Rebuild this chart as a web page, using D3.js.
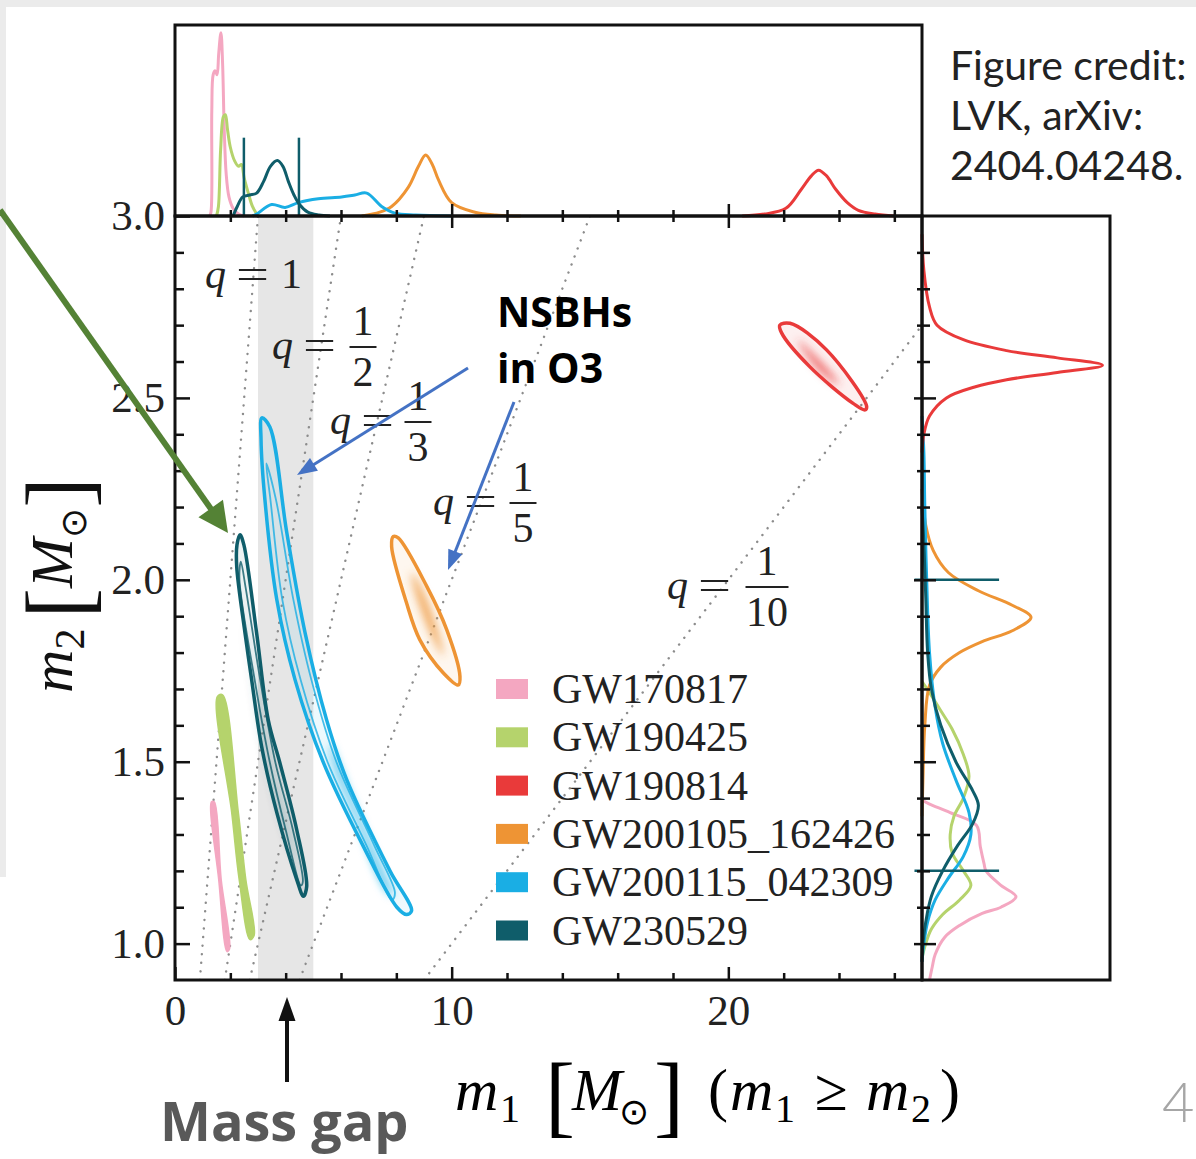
<!DOCTYPE html>
<html>
<head>
<meta charset="utf-8">
<script src="https://cdn.jsdelivr.net/npm/d3@7"></script>
<style>
  body { margin: 0; background: #fff; }
  svg { display: block; }
</style>
</head>
<body>
<svg id="chart"></svg>
<script>
var w = 1196, h = 1159;
var serif = "'Liberation Serif', 'DejaVu Serif', serif";
var sans = "'Open Sans', 'Noto Sans', sans-serif";

// events, legend order
var events = ["GW170817", "GW190425", "GW190814", "GW200105_162426", "GW200115_042309", "GW230529"];
var eventColors = ["#f4a7c1", "#b5d36c", "#e93a3a", "#ee9434", "#1aaee4", "#0f5d6a"];

// 90% credible regions, [m1, m2]
var contourGW170817 = [[1.32, 1.39], [1.42, 1.39], [1.67, 1.176], [1.97, 0.985], [1.88, 0.978], [1.58, 1.176]];
var contourGW190425 = [[1.53, 1.679], [1.72, 1.684], [2.29, 1.36], [2.56, 1.176], [2.86, 1.022], [2.71, 1.011], [2.32, 1.176], [2.05, 1.36]];
var contourGW190814 = [[21.86, 2.70], [22.23, 2.705], [23.55, 2.632], [25.0, 2.476], [24.94, 2.467], [24.51, 2.485], [22.94, 2.586], [21.93, 2.678]];
var contourGW200105 = [[7.89, 2.119], [8.07, 2.115], [9.10, 1.982], [9.82, 1.863], [10.30, 1.734], [10.24, 1.711], [9.70, 1.744], [8.85, 1.835], [8.37, 1.936], [7.83, 2.091]];
var contourGW200115 = [[3.14, 2.445], [3.43, 2.42], [4.04, 2.13], [4.70, 1.855], [5.48, 1.615], [6.21, 1.45], [7.77, 1.20], [8.55, 1.09], [8.37, 1.08], [8.02, 1.10], [6.79, 1.27], [5.35, 1.50], [4.34, 1.725], [3.68, 1.945], [3.25, 2.22], [3.11, 2.385]];
var contourGW230529 = [[2.35, 2.124], [2.49, 2.096], [2.95, 1.854], [3.37, 1.615], [3.79, 1.497], [4.40, 1.313], [4.76, 1.157], [4.64, 1.13], [4.40, 1.176], [3.68, 1.36], [3.13, 1.542], [2.77, 1.725], [2.53, 1.854], [2.23, 2.037], [2.24, 2.096]];

// 50% regions (drawn for the two long ones)
var innerGW200115 = [[3.30, 2.32], [3.65, 2.22], [4.28, 1.945], [4.93, 1.725], [5.83, 1.50], [7.20, 1.27], [7.95, 1.14], [7.85, 1.12], [6.92, 1.27], [5.51, 1.50], [4.54, 1.725], [3.88, 1.945], [3.45, 2.22]];
var innerGW230529 = [[2.38, 2.05], [2.55, 1.98], [3.08, 1.725], [3.63, 1.497], [4.26, 1.313], [4.62, 1.17], [4.55, 1.16], [4.00, 1.313], [3.43, 1.497], [2.88, 1.725], [2.33, 2.00]];

// densest part of each posterior
var coreGW190814 = [[22.5, 2.66], [23.2, 2.61], [23.9, 2.55], [24.0, 2.535], [23.3, 2.575], [22.6, 2.645]];
var coreGW200105 = [[8.55, 2.02], [9.0, 1.96], [9.6, 1.83], [9.7, 1.79], [9.2, 1.86], [8.6, 1.99]];
var coreGW200115 = [[5.6, 1.55], [6.5, 1.38], [7.5, 1.20], [7.9, 1.13], [7.6, 1.15], [6.6, 1.33], [5.7, 1.50]];
var coreGW230529 = [[2.6, 1.85], [3.4, 1.50], [4.1, 1.30], [4.4, 1.22], [3.9, 1.33], [3.2, 1.55], [2.5, 1.90]];

var contours90 = [contourGW170817, contourGW190425, contourGW190814, contourGW200105, contourGW200115, contourGW230529];
var contours50 = [null, null, null, null, innerGW200115, innerGW230529];
var cores = [null, null, coreGW190814, coreGW200105, coreGW200115, coreGW230529];

// marginal m1 densities [m1, density]
var m1DensGW170817 = [[1.25, 0], [1.30, 0.02], [1.33, 0.55], [1.38, 0.74], [1.45, 0.76], [1.52, 0.74], [1.58, 0.85], [1.66, 0.96], [1.72, 0.80], [1.78, 0.45], [1.85, 0.22], [1.95, 0.10], [2.1, 0.04], [2.3, 0.01], [2.5, 0]];
var m1DensGW190425 = [[1.5, 0], [1.57, 0.05], [1.65, 0.35], [1.75, 0.52], [1.82, 0.53], [1.9, 0.45], [2.0, 0.36], [2.15, 0.29], [2.3, 0.26], [2.4, 0.27], [2.5, 0.2], [2.65, 0.12], [2.8, 0.05], [3.0, 0]];
var m1DensGW190814 = [[20.5, 0], [21.3, 0.01], [22.08, 0.04], [22.64, 0.14], [23.0, 0.21], [23.26, 0.24], [23.55, 0.21], [23.88, 0.14], [24.3, 0.07], [24.7, 0.03], [25.3, 0.01], [26, 0]];
var m1DensGW200105 = [[6.75, 0], [7.4, 0.02], [7.83, 0.05], [8.43, 0.15], [8.8, 0.26], [9.06, 0.32], [9.3, 0.27], [9.52, 0.19], [10.0, 0.07], [10.84, 0.02], [11.6, 0.005], [12.5, 0]];
var m1DensGW200115 = [[2.8, 0], [2.95, 0.01], [3.49, 0.06], [3.98, 0.045], [4.46, 0.07], [5.18, 0.09], [6.02, 0.10], [6.5, 0.11], [6.93, 0.12], [7.47, 0.05], [7.95, 0.015], [8.7, 0.005], [10, 0]];
var m1DensGW230529 = [[2.1, 0], [2.25, 0.05], [2.45, 0.10], [2.7, 0.11], [2.95, 0.12], [3.2, 0.18], [3.45, 0.26], [3.7, 0.29], [3.9, 0.26], [4.1, 0.18], [4.3, 0.11], [4.5, 0.06], [4.8, 0.02], [5.2, 0.005], [5.6, 0]];

// marginal m2 densities [m2, density]
var m2DensGW170817 = [[1.395, 0], [1.385, 0.035], [1.36, 0.15], [1.325, 0.29], [1.267, 0.31], [1.22, 0.33], [1.20, 0.34], [1.16, 0.42], [1.129, 0.50], [1.10, 0.42], [1.083, 0.32], [1.05, 0.2], [1.017, 0.12], [0.97, 0.07], [0.937, 0.055], [0.90, 0.04]];
var m2DensGW190425 = [[1.72, 0], [1.69, 0.04], [1.64, 0.10], [1.59, 0.16], [1.52, 0.22], [1.46, 0.25], [1.40, 0.22], [1.35, 0.17], [1.30, 0.15], [1.25, 0.16], [1.20, 0.22], [1.16, 0.26], [1.12, 0.20], [1.08, 0.11], [1.04, 0.05], [1.0, 0.02], [0.96, 0]];
var m2DensGW190814 = [[2.95, 0], [2.85, 0.01], [2.75, 0.04], [2.70, 0.08], [2.66, 0.22], [2.63, 0.45], [2.61, 0.72], [2.59, 0.96], [2.57, 0.72], [2.55, 0.45], [2.53, 0.28], [2.50, 0.13], [2.45, 0.04], [2.40, 0.01], [2.35, 0]];
var m2DensGW200105 = [[2.25, 0], [2.15, 0.02], [2.08, 0.06], [2.02, 0.14], [1.97, 0.30], [1.93, 0.48], [1.897, 0.58], [1.86, 0.48], [1.83, 0.32], [1.80, 0.20], [1.76, 0.10], [1.71, 0.04], [1.6, 0.015], [1.45, 0.005], [1.35, 0]];
var m2DensGW200115 = [[2.45, 0], [2.35, 0.01], [2.2, 0.015], [2.0, 0.025], [1.8, 0.04], [1.65, 0.07], [1.55, 0.11], [1.45, 0.18], [1.36, 0.25], [1.30, 0.26], [1.24, 0.22], [1.18, 0.14], [1.12, 0.07], [1.06, 0.03], [1.0, 0.01], [0.95, 0]];
var m2DensGW230529 = [[2.2, 0], [2.1, 0.01], [1.95, 0.02], [1.8, 0.03], [1.7, 0.05], [1.6, 0.10], [1.5, 0.18], [1.42, 0.27], [1.38, 0.30], [1.33, 0.27], [1.27, 0.19], [1.2, 0.11], [1.13, 0.05], [1.06, 0.02], [1.0, 0.005], [0.95, 0]];

var m1Densities = [m1DensGW170817, m1DensGW190425, m1DensGW190814, m1DensGW200105, m1DensGW200115, m1DensGW230529];
var m2Densities = [m2DensGW170817, m2DensGW190425, m2DensGW190814, m2DensGW200105, m2DensGW200115, m2DensGW230529];

// GW230529 90% intervals
var ciM1GW230529 = [2.49, 4.48];
var ciM2GW230529 = [1.2, 2.0];

var qValues = [1, 1 / 2, 1 / 3, 1 / 5, 1 / 10];
var massGap = [3, 5];

var xMajorTicks = [0, 10, 20];
var xMinorTicks = [2, 4, 6, 8, 12, 14, 16, 18, 22, 24, 26];
var yMajorTicks = [1.0, 1.5, 2.0, 2.5, 3.0];
var yMinorTicks = [1.1, 1.2, 1.3, 1.4, 1.6, 1.7, 1.8, 1.9, 2.1, 2.2, 2.3, 2.4, 2.6, 2.7, 2.8, 2.9];

var svg = d3.select("#chart").attr("width", w).attr("height", h);

// slide frame
svg.append("rect").attr("width", w).attr("height", 7).attr("fill", "#ebebeb");
svg.append("rect").attr("width", 6).attr("height", 877).attr("fill", "#ebebeb");

var x = d3.scaleLinear().domain([0, 27]).range([175, 922]);
var y = d3.scaleLinear().domain([0.9, 3.0]).range([980, 216]);
var dTop = d3.scaleLinear().domain([0, 1]).range([216, 25]);
var dRight = d3.scaleLinear().domain([0, 1]).range([922, 1110]);

var defs = svg.append("defs");
defs.append("clipPath").attr("id", "mainClip").append("rect")
    .attr("x", 175).attr("y", 216).attr("width", 747).attr("height", 764);
defs.append("filter").attr("id", "blur")
    .attr("x", "-50%").attr("y", "-50%").attr("width", "200%").attr("height", "200%")
    .append("feGaussianBlur").attr("stdDeviation", 4);

// main panel
var main = svg.append("g").attr("clip-path", "url(#mainClip)");

main.append("rect")
    .attr("x", x(massGap[0])).attr("y", 216)
    .attr("width", x(massGap[1]) - x(massGap[0])).attr("height", 764)
    .attr("fill", "#e6e6e6");

main.selectAll("line.q")
    .data(qValues)
    .join("line")
    .attr("class", "q")
    .attr("x1", function (q) { return x(0.9 / q); })
    .attr("y1", y(0.9))
    .attr("x2", function (q) { return x(3.0 / q); })
    .attr("y2", y(3.0))
    .attr("stroke", "#8c8c8c")
    .attr("stroke-width", 2.4)
    .attr("stroke-linecap", "round")
    .attr("stroke-dasharray", "0.1 8.5");

var contourLine = d3.line()
    .x(function (d) { return x(d[0]); })
    .y(function (d) { return y(d[1]); })
    .curve(d3.curveCatmullRomClosed.alpha(0.5));

events.forEach(function (ev, i) {
  var c = eventColors[i];
  main.append("path").attr("d", contourLine(contours90[i]))
      .attr("fill", c).attr("fill-opacity", i < 2 ? 1 : 0.08);
  if (cores[i]) {
    main.append("path").attr("d", contourLine(cores[i]))
        .attr("fill", c).attr("fill-opacity", i === 5 ? 0.55 : 0.8)
        .attr("filter", "url(#blur)");
  }
  if (contours50[i]) {
    main.append("path").attr("d", contourLine(contours50[i]))
        .attr("fill", "none").attr("stroke", c)
        .attr("stroke-width", 1.8).attr("stroke-opacity", 0.8);
  }
  main.append("path").attr("d", contourLine(contours90[i]))
      .attr("fill", "none").attr("stroke", c)
      .attr("stroke-width", i < 2 ? 1.5 : 3.5)
      .attr("stroke-linejoin", "round");
});

// marginals
var topLine = d3.line()
    .x(function (d) { return x(d[0]); })
    .y(function (d) { return dTop(d[1]); })
    .curve(d3.curveCatmullRom.alpha(0.5));
var rightLine = d3.line()
    .x(function (d) { return dRight(d[1]); })
    .y(function (d) { return y(d[0]); })
    .curve(d3.curveCatmullRom.alpha(0.5));

var drawOrder = [0, 1, 3, 4, 5, 2];
drawOrder.forEach(function (i) {
  svg.append("path").attr("d", topLine(m1Densities[i]))
      .attr("fill", "none").attr("stroke", eventColors[i]).attr("stroke-width", 3);
  svg.append("path").attr("d", rightLine(m2Densities[i]))
      .attr("fill", "none").attr("stroke", eventColors[i]).attr("stroke-width", 3);
});

svg.selectAll("line.ci1")
    .data(ciM1GW230529)
    .join("line")
    .attr("class", "ci1")
    .attr("x1", function (d) { return x(d); }).attr("x2", function (d) { return x(d); })
    .attr("y1", dTop(0)).attr("y2", dTop(0.41))
    .attr("stroke", eventColors[5]).attr("stroke-width", 2.5);
svg.selectAll("line.ci2")
    .data(ciM2GW230529)
    .join("line")
    .attr("class", "ci2")
    .attr("y1", function (d) { return y(d); }).attr("y2", function (d) { return y(d); })
    .attr("x1", dRight(-0.04)).attr("x2", dRight(0.41))
    .attr("stroke", eventColors[5]).attr("stroke-width", 2.5);

// frames
function frame(x0, y0, ww, hh) {
  svg.append("rect").attr("x", x0).attr("y", y0).attr("width", ww).attr("height", hh)
      .attr("fill", "none").attr("stroke", "#111").attr("stroke-width", 3);
}
frame(175, 25, 747, 191);
frame(922, 216, 188, 764);
frame(175, 216, 747, 764);

// axes
function styleAxis(g) {
  g.select(".domain").remove();
  g.selectAll(".tick line").attr("stroke", "#111").attr("stroke-width", 2.5);
  g.selectAll("text").attr("font-family", serif).attr("font-size", 43).attr("fill", "#222");
}

svg.append("g").attr("transform", "translate(0,980)")
    .call(d3.axisBottom(x).tickValues(xMinorTicks).tickSizeInner(-7).tickSizeOuter(0).tickFormat(""))
    .call(styleAxis);
svg.append("g").attr("transform", "translate(0,980)")
    .call(d3.axisBottom(x).tickValues(xMajorTicks).tickSizeInner(-13).tickSizeOuter(0).tickPadding(14).tickFormat(d3.format("d")))
    .call(styleAxis);
svg.append("g").attr("transform", "translate(175,0)")
    .call(d3.axisLeft(y).tickValues(yMinorTicks).tickSizeInner(-9).tickSizeOuter(0).tickFormat(""))
    .call(styleAxis);
svg.append("g").attr("transform", "translate(175,0)")
    .call(d3.axisLeft(y).tickValues(yMajorTicks).tickSizeInner(-15).tickSizeOuter(0).tickPadding(10).tickFormat(d3.format(".1f")))
    .call(styleAxis);

// shared axis between main and top panel: ticks on both sides
svg.append("g").attr("transform", "translate(0,216)")
    .call(d3.axisBottom(x).tickValues(xMinorTicks).tickSize(6).tickFormat(""))
    .call(styleAxis)
    .selectAll(".tick line").attr("y1", -6);
svg.append("g").attr("transform", "translate(0,216)")
    .call(d3.axisBottom(x).tickValues([10, 20]).tickSize(12).tickFormat(""))
    .call(styleAxis)
    .selectAll(".tick line").attr("y1", -12);
svg.append("g").attr("transform", "translate(922,0)")
    .call(d3.axisRight(y).tickValues(yMinorTicks).tickSize(8).tickFormat(""))
    .call(styleAxis)
    .selectAll(".tick line").attr("x1", -5);
svg.append("g").attr("transform", "translate(922,0)")
    .call(d3.axisRight(y).tickValues([1.0, 1.5, 2.0, 2.5]).tickSize(14).tickFormat(""))
    .call(styleAxis)
    .selectAll(".tick line").attr("x1", -8);

// q labels
function txt(t, px, py, size, italic, anchor) {
  return svg.append("text").attr("x", px).attr("y", py).text(t)
      .attr("font-family", serif).attr("font-size", size)
      .attr("font-style", italic ? "italic" : "normal")
      .attr("text-anchor", anchor || "start").attr("fill", "#222");
}
function eq(px, py) {
  return txt("=", px, py, 42, false)
      .attr("textLength", 33).attr("lengthAdjust", "spacingAndGlyphs");
}
txt("q", 205, 288, 42, true);
eq(236, 288);
txt("1", 281, 288, 42, false);

var fracLabels = [
  { den: "2", qx: 272, by: 347, fx: 363, bw: 27 },
  { den: "3", qx: 330, by: 422, fx: 418, bw: 27 },
  { den: "5", qx: 433, by: 503, fx: 523, bw: 27 },
  { den: "10", qx: 667, by: 587, fx: 767, bw: 43 }
];
fracLabels.forEach(function (f) {
  txt("q", f.qx, f.by + 12, 42, true);
  eq(f.qx + 31, f.by + 12);
  txt("1", f.fx, f.by - 12, 42, false, "middle");
  txt(f.den, f.fx, f.by + 39, 42, false, "middle");
  svg.append("line").attr("x1", f.fx - f.bw / 2).attr("x2", f.fx + f.bw / 2)
      .attr("y1", f.by).attr("y2", f.by).attr("stroke", "#222").attr("stroke-width", 2);
});

// legend
var legend = svg.append("g");
legend.selectAll("rect")
    .data(events)
    .join("rect")
    .attr("x", 496)
    .attr("y", function (d, i) { return 679 + i * 48.3; })
    .attr("width", 32).attr("height", 20)
    .attr("fill", function (d, i) { return eventColors[i]; });
legend.selectAll("text")
    .data(events)
    .join("text")
    .attr("x", 552)
    .attr("y", function (d, i) { return 703 + i * 48.3; })
    .attr("font-family", serif).attr("font-size", 42).attr("fill", "#222")
    .text(function (d) { return d; });

// axis titles
var xl = svg.append("text").attr("y", 1110).attr("fill", "#000")
    .attr("font-family", serif).attr("font-size", 60);
xl.append("tspan").attr("x", 455).attr("font-style", "italic").text("m");
xl.append("tspan").attr("x", 500).attr("dy", 12).attr("font-size", 40).text("1");
xl.append("tspan").attr("x", 545).attr("dy", 4).attr("font-size", 90).text("[");
xl.append("tspan").attr("x", 572).attr("dy", -16).attr("font-style", "italic").text("M");
xl.append("tspan").attr("x", 619).attr("dy", 14).attr("font-size", 36).attr("font-family", "'DejaVu Sans'").text("\u2299");
xl.append("tspan").attr("x", 654).attr("dy", 2).attr("font-size", 90).text("]");
xl.append("tspan").attr("x", 708).attr("dy", -16).text("(");
xl.append("tspan").attr("x", 730).attr("font-style", "italic").text("m");
xl.append("tspan").attr("x", 775).attr("dy", 12).attr("font-size", 40).text("1");
xl.append("tspan").attr("x", 815).attr("dy", -12).text("\u2265");
xl.append("tspan").attr("x", 866).attr("font-style", "italic").text("m");
xl.append("tspan").attr("x", 911).attr("dy", 12).attr("font-size", 40).text("2");
xl.append("tspan").attr("x", 940).attr("dy", -12).text(")");

var yl = svg.append("text").attr("transform", "translate(72,585) rotate(-90)")
    .attr("text-anchor", "middle").attr("fill", "#111")
    .attr("font-family", serif).attr("font-size", 60);
yl.append("tspan").attr("font-style", "italic").text("m");
yl.append("tspan").attr("dy", 12).attr("font-size", 42).text("2");
yl.append("tspan").attr("dy", 5).attr("dx", 10).attr("font-size", 92).text("[");
yl.append("tspan").attr("dy", -17).attr("font-style", "italic").text("M");
yl.append("tspan").attr("dy", 14).attr("font-size", 36).attr("font-family", "'DejaVu Sans'").text("\u2299");
yl.append("tspan").attr("dy", 3).attr("font-size", 92).text("]");

// annotations
function arrow(x1, y1, x2, y2, color, sw, hl, hw) {
  var a = Math.atan2(y2 - y1, x2 - x1);
  var bx = x2 - hl * Math.cos(a), by = y2 - hl * Math.sin(a);
  svg.append("line").attr("x1", x1).attr("y1", y1)
      .attr("x2", bx + 2 * Math.cos(a)).attr("y2", by + 2 * Math.sin(a))
      .attr("stroke", color).attr("stroke-width", sw);
  var px = -Math.sin(a) * hw / 2, py = Math.cos(a) * hw / 2;
  svg.append("polygon")
      .attr("points", [[x2, y2], [bx + px, by + py], [bx - px, by - py]].map(function (p) { return p.join(","); }).join(" "))
      .attr("fill", color);
}
arrow(0, 210, 228, 533, "#548235", 6, 30, 30);
arrow(468, 368, 297, 475, "#4472c4", 3, 20, 15);
arrow(514, 402, 448, 570, "#4472c4", 3, 20, 15);
arrow(287, 1082, 287, 997, "#111", 4, 24, 17);

svg.append("text").attr("x", 497).attr("y", 327).text("NSBHs")
    .attr("font-family", sans).attr("font-weight", 700).attr("font-size", 41).attr("fill", "#000");
svg.append("text").attr("x", 497).attr("y", 383).text("in O3")
    .attr("font-family", sans).attr("font-weight", 700).attr("font-size", 41).attr("fill", "#000");
svg.append("text").attr("x", 160).attr("y", 1141).text("Mass gap")
    .attr("font-family", sans).attr("font-weight", 700).attr("font-size", 54).attr("fill", "#595959");

var credit = ["Figure credit:", "LVK, arXiv:", "2404.04248."];
svg.selectAll("text.credit")
    .data(credit)
    .join("text")
    .attr("class", "credit")
    .attr("x", 950)
    .attr("y", function (d, i) { return 80 + i * 50; })
    .attr("font-family", "Lato, sans-serif").attr("font-size", 41).attr("fill", "#222")
    .text(function (d) { return d; });

svg.append("text").attr("x", 1162).attr("y", 1122).text("4")
    .attr("font-family", "Lato, sans-serif").attr("font-weight", 300)
    .attr("font-size", 56).attr("fill", "#a6a6a6");
</script>
</body>
</html>
